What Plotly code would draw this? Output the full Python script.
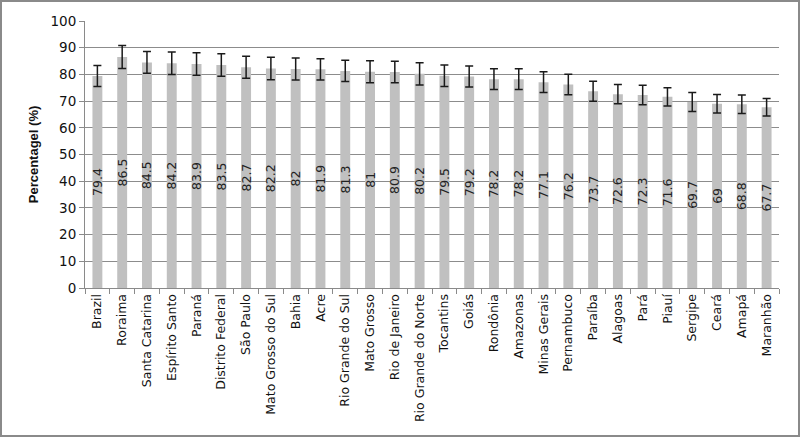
import plotly.graph_objects as go

# states ordered by percentage, Brazil first
states = ["Brazil", "Roraima", "Santa Catarina", "Espírito Santo", "Paraná",
          "Distrito Federal", "São Paulo", "Mato Grosso do Sul", "Bahia", "Acre",
          "Rio Grande do Sul", "Mato Grosso", "Rio de Janeiro", "Rio Grande do Norte",
          "Tocantins", "Goiás", "Rondônia", "Amazonas", "Minas Gerais", "Pernambuco",
          "Paraíba", "Alagoas", "Pará", "Piauí", "Sergipe", "Ceará", "Amapá", "Maranhão"]
values = [79.4, 86.5, 84.5, 84.2, 83.9, 83.5, 82.7, 82.2, 82, 81.9,
          81.3, 81, 80.9, 80.2, 79.5, 79.2, 78.2, 78.2, 77.1, 76.2,
          73.7, 72.6, 72.3, 71.6, 69.7, 69, 68.8, 67.7]
# error bar half widths
errors = [3.9, 4.3, 4.1, 4.2, 4.2, 4.2, 4.1, 4.2, 4.1, 4.0,
          4.0, 4.1, 4.0, 4.2, 4.0, 3.9, 3.9, 3.9, 3.85, 3.85,
          3.75, 3.6, 3.65, 3.4, 3.55, 3.45, 3.45, 3.3]
labels = [f"{v:g}" for v in values]

W, H = 800, 437
ml, mr, mt, mb = 85, 21, 21, 149
font = "DejaVu Sans"

fig = go.Figure()
fig.add_trace(go.Bar(
    x=states, y=values,
    marker=dict(color="#c0c0c0", line=dict(width=0)),
    error_y=dict(type="data", array=errors, visible=True,
                 color="#1a1a1a", thickness=1.5, width=4),
    text=labels, textposition="inside", insidetextanchor="middle",
    textangle=-90, constraintext="none",
    textfont=dict(family=font, size=12.5, color="#222222"),
    cliponaxis=False,
))

# grey frame round the whole picture
pw, ph = W - ml - mr, H - mt - mb
fig.add_shape(type="rect", xref="paper", yref="paper",
              x0=-(ml - 1) / pw, x1=1 + (mr - 1) / pw,
              y0=-(mb - 1) / ph, y1=1 + (mt - 1) / ph,
              line=dict(color="#8a8a8a", width=2), layer="below")

fig.update_layout(
    width=W, height=H,
    margin=dict(l=ml, r=mr, t=mt, b=mb, autoexpand=False),
    paper_bgcolor="white", plot_bgcolor="white",
    bargap=0.6, showlegend=False,
    font=dict(family=font, size=12, color="#111111"),
)
fig.update_xaxes(
    tickangle=-90, tickson="boundaries", ticks="outside", ticklen=5,
    tickcolor="#8a8a8a", showline=True, linecolor="#8a8a8a", linewidth=1,
    tickfont=dict(family=font, size=12.5, color="#111111"), automargin=False,
)
fig.update_yaxes(
    range=[0, 100], dtick=10, ticks="outside", ticklen=5, tickcolor="#8a8a8a",
    showline=True, linecolor="#8a8a8a", linewidth=1,
    showgrid=True, gridcolor="#8c8c8c", gridwidth=1, zeroline=False,
    tickfont=dict(family=font, size=13.5, color="#111111"), automargin=False,
    title=dict(text="<b>Percentagel (%)</b>", standoff=8,
               font=dict(family="Liberation Sans", size=13, color="#111111")),
)

fig.write_html("out.html", config={"displayModeBar": False},
               post_script="document.body.style.margin='0';")
